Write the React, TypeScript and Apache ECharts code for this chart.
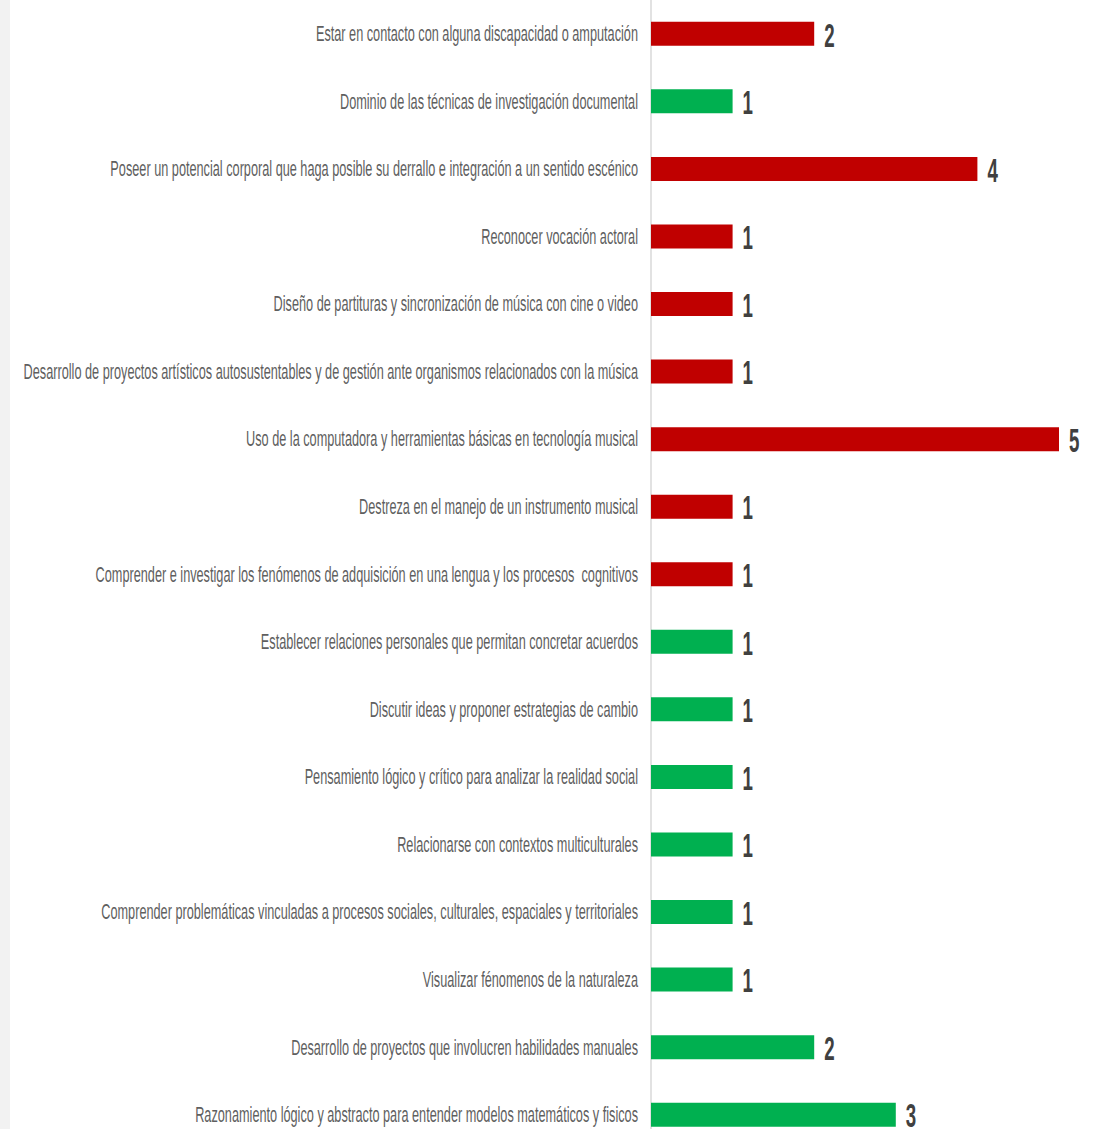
import React, { useEffect, useRef } from "react";
import * as echarts from "echarts";

const categories = [
  "Estar en contacto con alguna discapacidad o amputación",
  "Dominio de las técnicas de investigación documental",
  "Poseer un potencial corporal que haga posible su derrallo e integración a un sentido escénico",
  "Reconocer vocación actoral",
  "Diseño de partituras y sincronización de música con cine o video",
  "Desarrollo de proyectos artísticos autosustentables y de gestión ante organismos relacionados con la música",
  "Uso de la computadora y herramientas básicas en tecnología musical",
  "Destreza en el manejo de un instrumento musical",
  "Comprender e investigar los fenómenos de adquisición en una lengua y los procesos  cognitivos",
  "Establecer relaciones personales que permitan concretar acuerdos",
  "Discutir ideas y proponer estrategias de cambio",
  "Pensamiento lógico y crítico para analizar la realidad social",
  "Relacionarse con contextos multiculturales",
  "Comprender problemáticas vinculadas a procesos sociales, culturales, espaciales y territoriales",
  "Visualizar fénomenos de la naturaleza",
  "Desarrollo de proyectos que involucren habilidades manuales",
  "Razonamiento lógico y abstracto para entender modelos matemáticos y fisicos",
];

const values = [2, 1, 4, 1, 1, 1, 5, 1, 1, 1, 1, 1, 1, 1, 1, 2, 3];

// "r" = red group, "g" = green group
const groups = ["r", "g", "r", "r", "r", "r", "r", "r", "r", "g", "g", "g", "g", "g", "g", "g", "g"];

const RED = "#c00000";
const GREEN = "#00b050";

export default function App() {
  const ref = useRef<HTMLDivElement>(null);

  useEffect(() => {
    if (!ref.current) return;
    const chart = echarts.init(ref.current, null, { renderer: "svg" });
    const labelFont = '22px "Liberation Sans", Arial, sans-serif';
    const valueFont = 'bold 34px "Liberation Sans", Arial, sans-serif';
    chart.setOption({
      animation: false,
      backgroundColor: "#ffffff",
      graphic: [
        {
          type: "rect",
          left: 0,
          top: 0,
          shape: { x: 0, y: 0, width: 10, height: 1200 },
          style: { fill: "#f2f2f2" },
          silent: true,
        },
      ],
      grid: { left: 651, right: 48, top: 0, height: 1148.5, containLabel: false },
      xAxis: {
        type: "value",
        min: 0,
        max: 5,
        show: false,
        splitLine: { show: false },
      },
      yAxis: {
        type: "category",
        data: categories,
        inverse: true,
        axisLine: { show: true, lineStyle: { color: "#d9d9d9", width: 1.5 } },
        axisTick: { show: false },
        axisLabel: { show: false },
      },
      series: [
        {
          type: "bar",
          data: values.map((v, i) => ({
            value: v,
            itemStyle: { color: groups[i] === "r" ? RED : GREEN },
          })),
          barWidth: 24,
        },
        {
          type: "custom",
          clip: false,
          silent: true,
          data: values.map((v, i) => [v, i]),
          renderItem: (params: any, api: any) => {
            const idx = api.value(1);
            const p0 = api.coord([0, idx]);
            const p1 = api.coord([api.value(0), idx]);
            return {
              type: "group",
              children: [
                {
                  type: "text",
                  x: p0[0] - 13,
                  y: p0[1],
                  scaleX: 0.578,
                  style: {
                    text: categories[idx],
                    align: "right",
                    verticalAlign: "middle",
                    fill: "#5f5f5f",
                    font: labelFont,
                  },
                },
                {
                  type: "text",
                  x: p1[0] + 10,
                  y: p1[1] + 1,
                  scaleX: 0.55,
                  style: {
                    text: String(values[idx]),
                    align: "left",
                    verticalAlign: "middle",
                    fill: "#404040",
                    font: valueFont,
                  },
                },
              ],
            };
          },
        },
      ],
    });
    return () => chart.dispose();
  }, []);

  return (
    <div
      ref={ref}
      style={{ position: "fixed", left: 0, top: 0, width: 1107, height: 1150 }}
    />
  );
}
